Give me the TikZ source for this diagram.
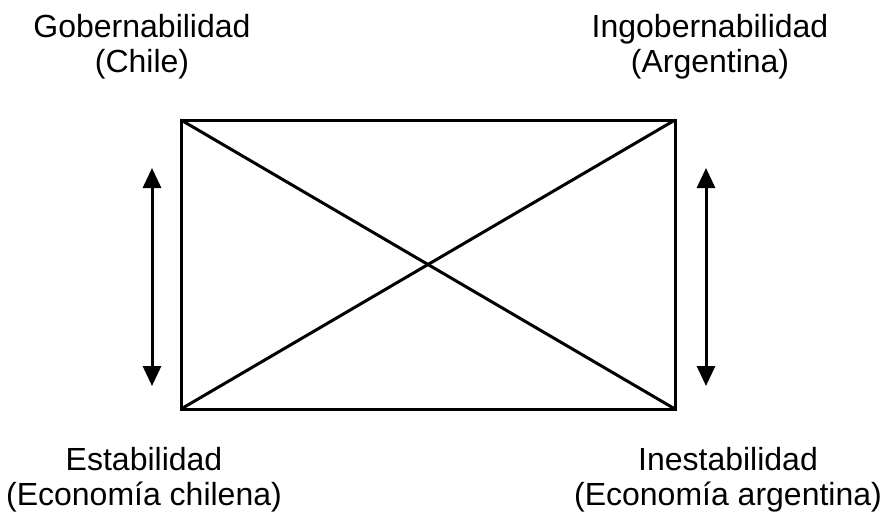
\documentclass[tikz,border=0pt]{standalone}
\usepackage{fontspec}
\setmainfont{Liberation Sans}
\usetikzlibrary{arrows.meta}

\tikzset{
  etiqueta/.style={align=center, anchor=base, inner sep=0pt, font=\fontsize{32}{35}\selectfont},
  flecha/.style={{Triangle[width=18pt,length=20pt]}-{Triangle[width=18pt,length=20pt]}, line width=3pt}
}

\begin{document}
\begin{tikzpicture}[x=1pt, y=-1pt, line width=3pt]
        \useasboundingbox (0,0) rectangle (885,514);

        % Corners of the rectangle
        \coordinate (A) at (181,120);
        \coordinate (B) at (675,120);
        \coordinate (C) at (675,409);
        \coordinate (D) at (181,409);

        % Rectangle and its diagonals
        \draw[line join=miter] (A) -- (B) -- (C) -- (D) -- cycle;
        \draw (A) -- (C);
        \draw (B) -- (D);

        % Double arrows at the sides
        \coordinate (izqA) at (152,168);
        \coordinate (izqB) at (152,386);
        \coordinate (derA) at (706,168);
        \coordinate (derB) at (706,386);
        \draw[flecha] (izqA) -- (izqB);
        \draw[flecha] (derA) -- (derB);

        % Labels
        \node[etiqueta] (gob) at (142,72) {Gobernabilidad\\(Chile)};
        \node[etiqueta] (ingob) at (710,72) {Ingobernabilidad\\(Argentina)};
        \node[etiqueta] (estab) at (144,505) {Estabilidad\\(Economía chilena)};
        \node[etiqueta] (inestab) at (728,505) {Inestabilidad\\(Economía argentina)};
      \end{tikzpicture}
\end{document}
